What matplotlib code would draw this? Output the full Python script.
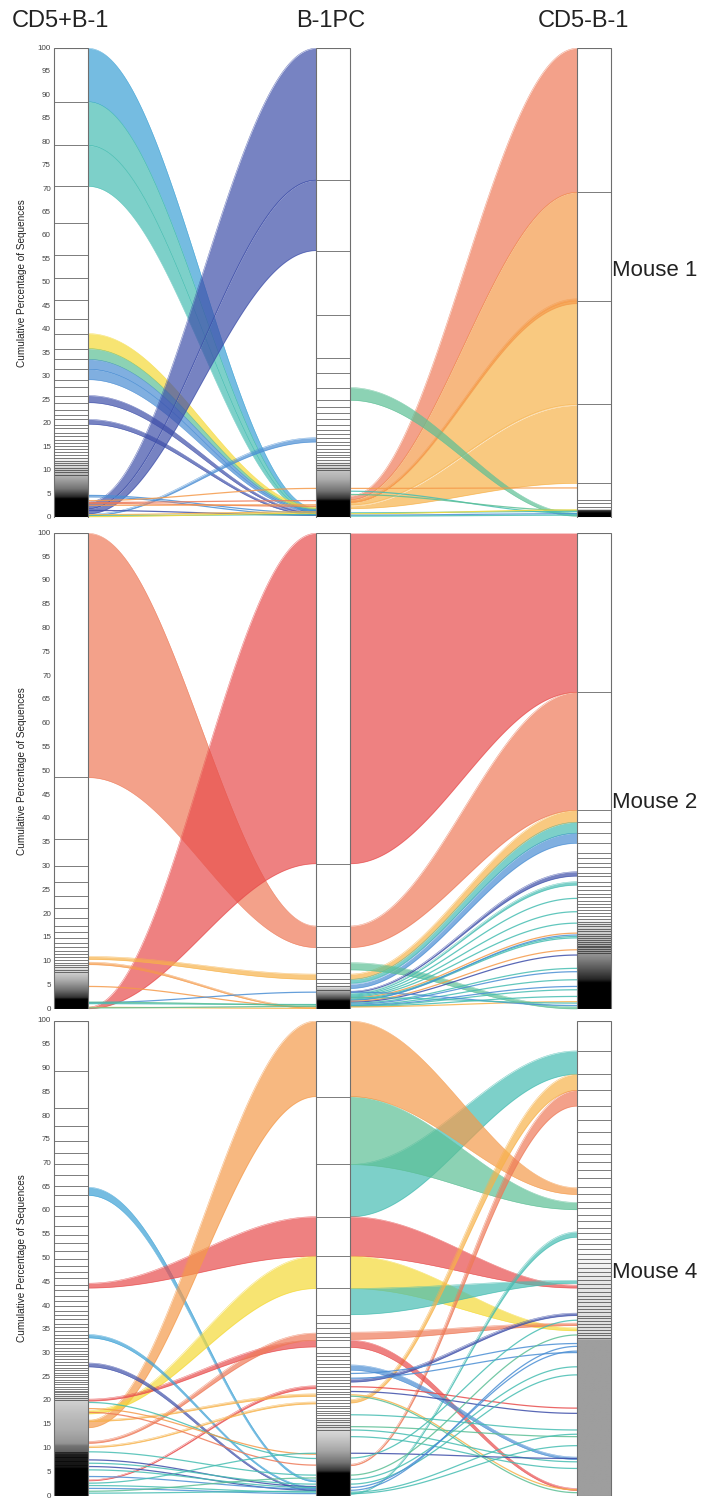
#!/usr/bin/env python3
"""Clone-sharing ribbon plot: CD5+B-1 / B-1PC / CD5-B-1 for three mice."""

import matplotlib

matplotlib.use("Agg")
import matplotlib.pyplot as plt  # noqa: E402
import numpy as np  # noqa: E402
from matplotlib.patches import Rectangle  # noqa: E402

plt.rcParams["font.family"] = ["Liberation Sans", "DejaVu Sans"]

SKY = "#3aa0d5"
TEAL = "#46bdb2"
MINT = "#5cbf95"
YELLOW = "#f5d936"
STEEL = "#4a8ed4"
INDIGO = "#3d4ea9"
SALMON = "#ee7a58"
ORANGE = "#f59a4a"
GOLD = "#f7b24a"
RED = "#e84c4c"

COLUMNS = ["CD5+B-1", "B-1PC", "CD5-B-1"]
MICE = ["Mouse 1", "Mouse 2", "Mouse 4"]
TICKS = list(range(0, 101, 5))

# cuts = cumulative % at each clone boundary; shade = (cumulative %, grey level)
# stops for the part of the bar where boundaries merge into a solid tone.

# ---- Mouse 1 ---------------------------------------------------------------
M1_LEFT_CUTS = [88.6, 79.3, 70.6, 62.7, 55.9, 51.0, 46.3, 42.4, 39.2, 36.0,
                33.7, 31.6, 29.4, 27.8, 26.0, 24.5, 23.0, 21.9, 20.9, 19.8,
                19.0, 18.1, 17.3, 16.6, 15.9, 15.2, 14.5, 13.9, 13.3, 12.7,
                12.1, 11.6, 11.1, 10.6, 10.1, 9.6, 9.1]
M1_LEFT_SHADE = [(0, 0.0), (3.9, 0.0), (4.3, 0.15), (6.0, 0.45), (8.5, 0.68),
                 (11.0, 0.86), (13.0, 1.0)]
M1_MID_CUTS = [71.9, 56.9, 43.1, 33.9, 30.7, 27.7, 25.0, 23.5, 22.2, 21.0,
               19.8, 18.7, 17.7, 16.9, 16.1, 15.4, 14.7, 14.0, 13.4, 12.8,
               12.2, 11.6, 11.1, 10.6, 10.1]
M1_MID_SHADE = [(0, 0.0), (3.4, 0.0), (3.9, 0.2), (5.5, 0.45), (8.0, 0.68),
                (10.5, 0.8), (12.0, 1.0)]
M1_RIGHT_CUTS = [69.3, 46.1, 24.1, 7.3, 3.7, 3.0, 2.3, 1.7, 1.3]
M1_RIGHT_SHADE = [(0, 0.0), (0.9, 0.0), (1.3, 0.5), (1.6, 1.0)]

# (left_lo, left_hi, mid_lo, mid_hi, colour)
M1_LM_BANDS = [
    (88.6, 100.0, 1.4, 2.0, SKY),
    (79.3, 88.6, 1.1, 1.4, TEAL),
    (70.6, 79.3, 0.8, 1.1, TEAL),
    (36.0, 39.2, 1.9, 2.4, YELLOW),
    (33.7, 36.0, 1.7, 1.9, MINT),
    (31.6, 33.7, 1.5, 1.7, STEEL),
    (29.4, 31.6, 1.3, 1.5, STEEL),
    (24.5, 26.0, 0.9, 1.2, INDIGO),
    (19.9, 20.9, 0.6, 0.9, INDIGO),
    (1.9, 3.3, 71.9, 100.0, INDIGO),
    (0.8, 1.9, 56.9, 71.9, INDIGO),
    (0.4, 0.7, 16.1, 17.0, STEEL),
]
# (left, mid, colour)
M1_LM_LINES = [
    (4.7, 1.0, STEEL), (4.4, 0.5, STEEL), (3.6, 6.2, ORANGE), (3.2, 3.6, SALMON),
    (3.0, 2.4, SALMON), (2.6, 2.7, ORANGE), (1.5, 0.5, INDIGO), (0.6, 1.2, GOLD),
    (0.4, 0.6, TEAL), (0.2, 0.9, YELLOW),
]
# (mid_lo, mid_hi, right_lo, right_hi, colour)
M1_MR_BANDS = [
    (3.8, 4.6, 69.3, 100.0, SALMON),
    (3.3, 3.8, 46.1, 69.3, ORANGE),
    (2.7, 3.2, 24.1, 46.1, GOLD),
    (1.9, 2.5, 7.3, 23.9, GOLD),
    (3.2, 3.6, 45.6, 46.6, ORANGE),
    (25.0, 27.7, 0.3, 0.9, MINT),
]
M1_MR_LINES = [
    (6.2, 6.3, ORANGE), (5.6, 0.9, TEAL), (4.9, 1.5, MINT), (1.0, 1.3, TEAL),
    (0.8, 1.6, YELLOW), (0.5, 0.8, STEEL), (0.3, 0.5, TEAL),
]

# ---- Mouse 2 ---------------------------------------------------------------
M2_LEFT_CUTS = [48.7, 35.7, 30.2, 26.7, 23.7, 21.2, 19.1, 17.5, 16.2, 14.9,
                14.0, 13.0, 12.3, 11.6, 10.9, 10.4, 9.8, 9.3, 8.8, 8.3, 7.8]
M2_LEFT_SHADE = [(0, 0.0), (2.0, 0.0), (2.4, 0.2), (4.0, 0.45), (6.0, 0.68),
                 (8.0, 0.85), (9.5, 1.0)]
M2_MID_CUTS = [30.6, 17.5, 13.0, 9.8, 7.6, 6.3, 5.5, 4.8, 4.1]
M2_MID_SHADE = [(0, 0.0), (1.7, 0.0), (2.1, 0.25), (3.2, 0.55), (4.3, 0.8),
                (5.0, 1.0)]
M2_RIGHT_CUTS = [66.6, 41.8, 39.3, 37.0, 34.9, 32.8, 31.7, 30.7, 29.8, 28.7,
                 27.9, 26.8, 25.9, 25.1, 24.2, 23.5, 22.8, 22.1, 21.4, 20.8,
                 20.2, 19.6, 19.0, 18.4, 17.9, 17.4, 16.9, 16.4, 15.9, 15.4,
                 15.0, 14.6, 14.2, 13.8, 13.4, 13.0, 12.6, 12.2, 11.8]
M2_RIGHT_SHADE = [(0, 0.0), (5.5, 0.0), (6.2, 0.15), (8.5, 0.35), (11.0, 0.55),
                  (14.0, 0.72), (17.5, 0.86), (19.0, 1.0)]

M2_LM_BANDS = [
    (48.7, 100.0, 13.0, 17.5, SALMON),
    (0.15, 0.45, 30.6, 100.0, RED),
    (10.5, 11.1, 6.3, 7.4, GOLD),
    (9.4, 9.9, 0.2, 0.45, ORANGE),
]
M2_LM_LINES = [
    (4.8, 0.5, ORANGE), (1.4, 3.6, STEEL), (1.2, 1.0, TEAL), (1.5, 0.9, MINT),
    (0.4, 0.2, GOLD), (0.3, 0.6, MINT),
]
M2_MR_BANDS = [
    (30.6, 100.0, 66.6, 100.0, RED),
    (13.0, 17.5, 41.8, 66.6, SALMON),
    (6.3, 7.4, 39.3, 41.8, GOLD),
    (5.5, 6.3, 37.0, 39.3, TEAL),
    (4.4, 5.3, 34.9, 37.0, STEEL),
    (8.3, 9.8, 0.1, 0.6, MINT),
    (3.6, 3.8, 28.0, 28.9, INDIGO),
    (3.2, 3.4, 26.1, 26.8, TEAL),
]
M2_MR_LINES = [
    (3.0, 23.3, TEAL), (2.8, 20.5, TEAL), (2.6, 18.1, TEAL), (2.4, 16.0, ORANGE),
    (2.2, 15.3, TEAL), (2.0, 15.0, TEAL), (1.9, 15.6, STEEL), (1.7, 12.5, ORANGE),
    (1.5, 11.4, INDIGO), (1.3, 8.6, TEAL), (1.1, 7.9, STEEL), (0.9, 6.2, TEAL),
    (0.8, 4.8, STEEL), (0.7, 4.1, TEAL), (0.6, 2.7, TEAL), (0.5, 1.6, GOLD),
    (3.6, 0.8, STEEL), (2.5, 1.3, TEAL),
]

# ---- Mouse 4 ---------------------------------------------------------------
M4_LEFT_CUTS = [89.5, 81.6, 78.0, 74.7, 72.2, 69.8, 67.5, 65.3, 63.3, 61.0,
                59.0, 56.9, 55.0, 53.3, 51.6, 50.0, 48.5, 47.1, 45.8, 44.5,
                43.3, 42.1, 41.0, 40.0, 39.0, 38.1, 37.2, 36.3, 35.5, 34.7,
                34.0, 33.3, 32.6, 31.9, 31.2, 30.6, 30.0, 29.4, 28.8, 28.2,
                27.6, 27.0, 26.5, 26.0, 25.5, 25.0, 24.5, 24.0, 23.5, 23.0,
                22.6, 22.2, 21.8, 21.4, 21.0, 20.6, 20.2, 9.3, 8.2, 7.4, 6.6]
M4_LEFT_SHADE = [(0, 0.0), (5.8, 0.0), (6.0, 0.08), (8.8, 0.12), (9.2, 0.38),
                 (10.5, 0.45), (11.0, 0.58), (14.0, 0.68), (17.0, 0.74),
                 (20.0, 0.82), (22.0, 1.0)]
M4_MID_CUTS = [84.1, 69.8, 58.8, 50.5, 43.7, 38.2, 36.4, 35.3, 34.4, 33.5,
               32.8, 31.4, 30.2, 29.4, 28.6, 27.8, 27.1, 26.4, 25.7, 25.0,
               24.4, 23.8, 23.2, 22.6, 22.0, 21.4, 20.8, 20.2, 19.6, 19.0,
               18.5, 18.0, 17.5, 17.0, 16.5, 16.0, 15.5, 15.0, 14.5, 14.0]
M4_MID_SHADE = [(0, 0.0), (4.8, 0.0), (5.3, 0.2), (7.0, 0.45), (9.5, 0.65),
                (12.5, 0.8), (15.0, 0.9), (17.0, 1.0)]
M4_RIGHT_CUTS = [93.7, 88.8, 85.4, 82.1, 79.2, 76.6, 74.2, 72.1, 70.4, 68.6,
                 66.9, 65.1, 63.5, 62.0, 60.6, 59.2, 57.8, 56.4, 55.3, 54.2,
                 53.1, 52.0, 51.0, 50.0, 49.0, 48.1, 47.2, 46.3, 45.4, 44.6,
                 43.8, 43.0, 42.2, 41.5, 40.8, 40.1, 39.4, 38.7, 38.0, 37.4,
                 36.8, 36.2, 35.6, 35.0, 34.4, 33.8, 33.3]
M4_RIGHT_SHADE = [(0, 0.62), (32.8, 0.62), (33.0, 0.86), (45.0, 0.9), (52.0, 1.0)]

M4_LM_BANDS = [
    (63.3, 65.0, 3.0, 3.4, SKY),
    (43.8, 44.8, 50.5, 58.8, RED),
    (14.4, 15.9, 84.1, 100.0, ORANGE),
    (17.3, 18.0, 43.7, 50.5, YELLOW),
    (20.0, 20.4, 31.4, 32.8, RED),
    (11.1, 11.5, 32.8, 34.3, SALMON),
    (33.3, 34.0, 1.6, 1.9, SKY),
    (27.2, 28.0, 1.1, 1.4, INDIGO),
    (3.2, 3.4, 22.6, 23.2, RED),
    (15.7, 16.0, 21.0, 21.5, GOLD),
    (10.2, 10.5, 19.4, 19.8, GOLD),
]
M4_LM_LINES = [
    (19.7, 7.9, TEAL), (17.6, 6.5, SALMON), (18.4, 8.8, ORANGE), (9.3, 4.4, TEAL),
    (7.6, 2.0, INDIGO), (6.9, 2.5, TEAL), (6.2, 1.2, INDIGO), (5.5, 1.8, TEAL),
    (4.1, 1.5, STEEL), (2.7, 9.0, TEAL), (2.2, 0.8, TEAL), (1.6, 0.5, STEEL),
    (1.0, 3.8, MINT), (0.6, 1.0, TEAL),
]
M4_MR_BANDS = [
    (58.8, 69.8, 88.8, 93.7, TEAL),
    (69.8, 84.1, 60.3, 61.8, MINT),
    (84.1, 100.0, 63.5, 64.9, ORANGE),
    (50.5, 58.8, 43.8, 44.4, RED),
    (43.7, 50.5, 34.8, 35.4, YELLOW),
    (38.2, 43.7, 44.8, 45.4, TEAL),
    (19.6, 20.3, 85.4, 88.8, GOLD),
    (6.4, 6.7, 82.1, 85.4, SALMON),
    (33.0, 34.5, 35.9, 36.4, SALMON),
    (31.3, 32.8, 1.2, 1.6, RED),
    (0.4, 0.6, 54.5, 55.6, TEAL),
    (26.5, 27.6, 7.7, 8.2, STEEL),
    (24.0, 24.6, 38.0, 38.5, INDIGO),
]
M4_MR_LINES = [
    (25.8, 32.1, STEEL), (24.8, 30.2, STEEL), (23.0, 18.5, RED), (22.0, 17.4, INDIGO),
    (21.3, 1.3, GOLD), (21.0, 0.7, MINT), (17.1, 13.9, TEAL), (14.6, 12.5, MINT),
    (13.9, 7.2, TEAL), (12.5, 5.8, TEAL), (9.0, 7.9, INDIGO), (8.0, 37.0, TEAL),
    (4.4, 33.9, MINT), (3.5, 27.2, TEAL), (2.5, 25.5, TEAL), (1.8, 30.5, STEEL),
    (1.2, 31.5, STEEL), (0.8, 13.0, TEAL), (0.5, 10.6, TEAL),
]

PANELS = [
    dict(cuts=[M1_LEFT_CUTS, M1_MID_CUTS, M1_RIGHT_CUTS],
         shade=[M1_LEFT_SHADE, M1_MID_SHADE, M1_RIGHT_SHADE],
         bands=[M1_LM_BANDS, M1_MR_BANDS], lines=[M1_LM_LINES, M1_MR_LINES]),
    dict(cuts=[M2_LEFT_CUTS, M2_MID_CUTS, M2_RIGHT_CUTS],
         shade=[M2_LEFT_SHADE, M2_MID_SHADE, M2_RIGHT_SHADE],
         bands=[M2_LM_BANDS, M2_MR_BANDS], lines=[M2_LM_LINES, M2_MR_LINES]),
    dict(cuts=[M4_LEFT_CUTS, M4_MID_CUTS, M4_RIGHT_CUTS],
         shade=[M4_LEFT_SHADE, M4_MID_SHADE, M4_RIGHT_SHADE],
         bands=[M4_LM_BANDS, M4_MR_BANDS], lines=[M4_LM_LINES, M4_MR_LINES]),
]

# layout (pixels of a 710 x 1498 canvas)
W, H = 710, 1498
BAR_X = [54, 316, 577]
BAR_W = 34
PANEL_PX = [(48.3, 517.5), (533.3, 1009.3), (1021.0, 1496.0)]
MOUSE_Y = [270, 803, 1273]
TITLE_X = [60, 331, 583]

_T = np.linspace(0, 1, 120)
_S = (1 - np.cos(np.pi * _T)) / 2


def _curve(x0, x1, a, b):
    return x0 + (x1 - x0) * _T, a + (b - a) * _S


def _ribbon(ax, x0, x1, a_lo, a_hi, b_lo, b_hi, colour):
    x, lo = _curve(x0, x1, a_lo, b_lo)
    _, hi = _curve(x0, x1, a_hi, b_hi)
    ax.fill_between(x, lo, hi, color=colour, alpha=0.7, lw=0, zorder=2)
    ax.plot(x, lo, color=colour, lw=0.35, alpha=0.8, zorder=2)
    ax.plot(x, hi, color=colour, lw=0.35, alpha=0.8, zorder=2)


def _flow_line(ax, x0, x1, a, b, colour):
    x, y = _curve(x0, x1, a, b)
    ax.plot(x, y, color=colour, lw=0.9, alpha=0.85, zorder=2)


def _bar(ax, x, cuts, shade):
    ax.add_patch(Rectangle((x, 0), BAR_W, 100, facecolor="white", edgecolor="none", zorder=3))
    vals = np.array([s[0] for s in shade])
    greys = np.array([s[1] for s in shade])
    top = vals[-1]
    yy = np.linspace(0, top, 400)
    img = np.interp(yy, vals, greys)[:, None]
    ax.imshow(img, cmap="gray", vmin=0, vmax=1, origin="lower", aspect="auto",
              extent=(x, x + BAR_W, 0, top), interpolation="bilinear", zorder=3)
    for c in cuts:
        ax.plot([x, x + BAR_W], [c, c], color="black", lw=0.6, alpha=0.6, zorder=4)
    ax.add_patch(Rectangle((x, 0), BAR_W, 100, facecolor="none", edgecolor="#6e6e6e",
                           lw=0.8, zorder=5))


fig = plt.figure(figsize=(W / 100, H / 100), dpi=100)

for p, panel in enumerate(PANELS):
    top, bot = PANEL_PX[p]
    ax = fig.add_axes([0, 1 - bot / H, 1, (bot - top) / H])

    gaps = [(BAR_X[0] + BAR_W, BAR_X[1]), (BAR_X[1] + BAR_W, BAR_X[2])]
    for g, (x0, x1) in enumerate(gaps):
        for a_lo, a_hi, b_lo, b_hi, col in panel["bands"][g]:
            _ribbon(ax, x0, x1, a_lo, a_hi, b_lo, b_hi, col)
        for a, b, col in panel["lines"][g]:
            _flow_line(ax, x0, x1, a, b, col)

    for k in range(3):
        _bar(ax, BAR_X[k], panel["cuts"][k], panel["shade"][k])

    ax.set_xlim(0, W)
    ax.set_ylim(0, 100)
    ax.axis("off")

    for t in TICKS:
        ax.text(51, t, str(t), ha="right", va="center", fontsize=5.8, color="#444444")
    ax.text(22, 50, "Cumulative Percentage of Sequences", rotation=90,
            ha="center", va="center", fontsize=7.2, color="#222222")
    fig.text(612 / W, 1 - MOUSE_Y[p] / H, MICE[p], ha="left", va="center",
             fontsize=16, color="#222222")

for name, x in zip(COLUMNS, TITLE_X):
    fig.text(x / W, 1 - 21 / H, name, ha="center", va="center", fontsize=17, color="#222222")

fig.savefig("out.png", dpi=100)
